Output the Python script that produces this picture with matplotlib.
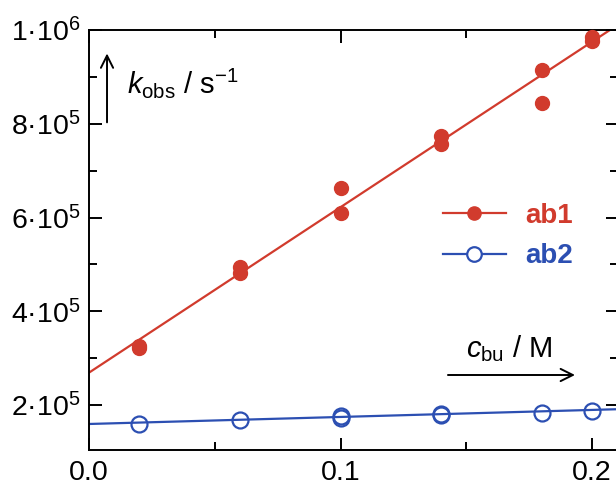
import numpy as np
import matplotlib
matplotlib.use("Agg")
import matplotlib.pyplot as plt
from matplotlib.ticker import MultipleLocator

plt.rcParams['font.family'] = ['Liberation Sans', 'DejaVu Sans']
plt.rcParams['mathtext.fontset'] = 'custom'
plt.rcParams['mathtext.rm'] = 'Liberation Sans'
plt.rcParams['mathtext.it'] = 'Liberation Sans:italic'
plt.rcParams['mathtext.bf'] = 'Liberation Sans:bold'

# ---- data ----
ab1_x = [0.02, 0.02, 0.06, 0.06, 0.10, 0.10, 0.14, 0.14, 0.18, 0.18, 0.20, 0.20]
ab1_y = [3.22e5, 3.26e5, 4.94e5, 4.81e5, 6.62e5, 6.10e5, 7.74e5, 7.57e5, 9.15e5, 8.44e5, 9.85e5, 9.76e5]
ab2_x = [0.02, 0.06, 0.10, 0.10, 0.14, 0.14, 0.18, 0.20]
ab2_y = [1.59e5, 1.69e5, 1.73e5, 1.76e5, 1.78e5, 1.81e5, 1.84e5, 1.87e5]
ab1_fit = (3.53e6, 2.69e5)   # slope, intercept
ab2_fit = (1.50e5, 1.595e5)
x_ticks = [0.0, 0.1, 0.2]
x_ticklabels = ['0.0', '0.1', '0.2']
y_ticks = [2e5, 4e5, 6e5, 8e5, 1e6]
y_ticklabels = ['2·10$^{5}$', '4·10$^{5}$', '6·10$^{5}$', '8·10$^{5}$', '1·10$^{6}$']

red = '#d13b2d'
blue = '#2c4fb2'
FS = 20.5

W, H = 616, 484
fig = plt.figure(figsize=(W / 100, H / 100), dpi=100)
L, R, T, B = 89, 618, 30, 450
ax = fig.add_axes([L / W, 1 - B / H, (R - L) / W, (B - T) / H])

xmax = 0.2103
ax.set_xlim(0, xmax)
ax.set_ylim(1.04e5, 1.0e6)

xf = np.array([0, xmax])
ax.plot(xf, ab1_fit[0] * xf + ab1_fit[1], color=red, lw=1.6, zorder=2)
ax.plot(xf, ab2_fit[0] * xf + ab2_fit[1], color=blue, lw=1.6, zorder=2)
ax.plot(ab1_x, ab1_y, 'o', color=red, ms=10, mec=red, zorder=3, clip_on=False)
ax.plot(ab2_x, ab2_y, 'o', mfc='none', mec=blue, ms=11.5, mew=1.6, zorder=3, clip_on=False)

# legend
h1, = ax.plot([], [], '-o', color=red, ms=9.5, lw=1.6)
h2, = ax.plot([], [], '-o', color=blue, mfc='white', mec=blue, ms=10.5, mew=1.6, lw=1.6)
leg = ax.legend([h1, h2], ['ab1', 'ab2'], loc='center left',
                bbox_to_anchor=(0.1408, 5.6e5), bbox_transform=ax.transData,
                frameon=False, borderpad=0, borderaxespad=0, handlelength=2.25,
                handletextpad=0.7, labelspacing=0.52,
                prop={'weight': 'bold', 'size': 20})
for t, c in zip(leg.get_texts(), [red, blue]):
    t.set_color(c)

# ticks
ax.set_xticks(x_ticks)
ax.set_xticklabels(x_ticklabels)
ax.set_yticks(y_ticks)
ax.set_yticklabels(y_ticklabels)
ax.xaxis.set_minor_locator(MultipleLocator(0.05))
ax.yaxis.set_minor_locator(MultipleLocator(1e5))
ax.tick_params(which='both', direction='in', top=True, right=True, width=1.4, color='black')
ax.tick_params(which='major', length=9, labelsize=FS)
ax.tick_params(which='minor', length=6)
ax.tick_params(axis='x', which='major', pad=7.5)
ax.tick_params(axis='y', which='major', pad=6)
for s in ax.spines.values():
    s.set_linewidth(1.4)

# axis annotations
ax.annotate('', xy=(0.00716, 9.5e5), xytext=(0.00716, 8.03e5),
            arrowprops=dict(arrowstyle='->', lw=1.4, color='black', mutation_scale=22,
                            shrinkA=0, shrinkB=0))
ax.text(0.0151, 8.65e5, r'$\mathit{k}_{\mathrm{obs}}$ / s$^{-1}$', fontsize=FS + 0.5,
        ha='left', va='baseline')
ax.annotate('', xy=(0.1932, 2.64e5), xytext=(0.1427, 2.64e5),
            arrowprops=dict(arrowstyle='->', lw=1.4, color='black', mutation_scale=22,
                            shrinkA=0, shrinkB=0))
ax.text(0.150, 3.03e5, r'$\mathit{c}_{\mathrm{bu}}$ / M', fontsize=FS + 0.5,
        ha='left', va='baseline')

fig.savefig('out.png', dpi=100)
